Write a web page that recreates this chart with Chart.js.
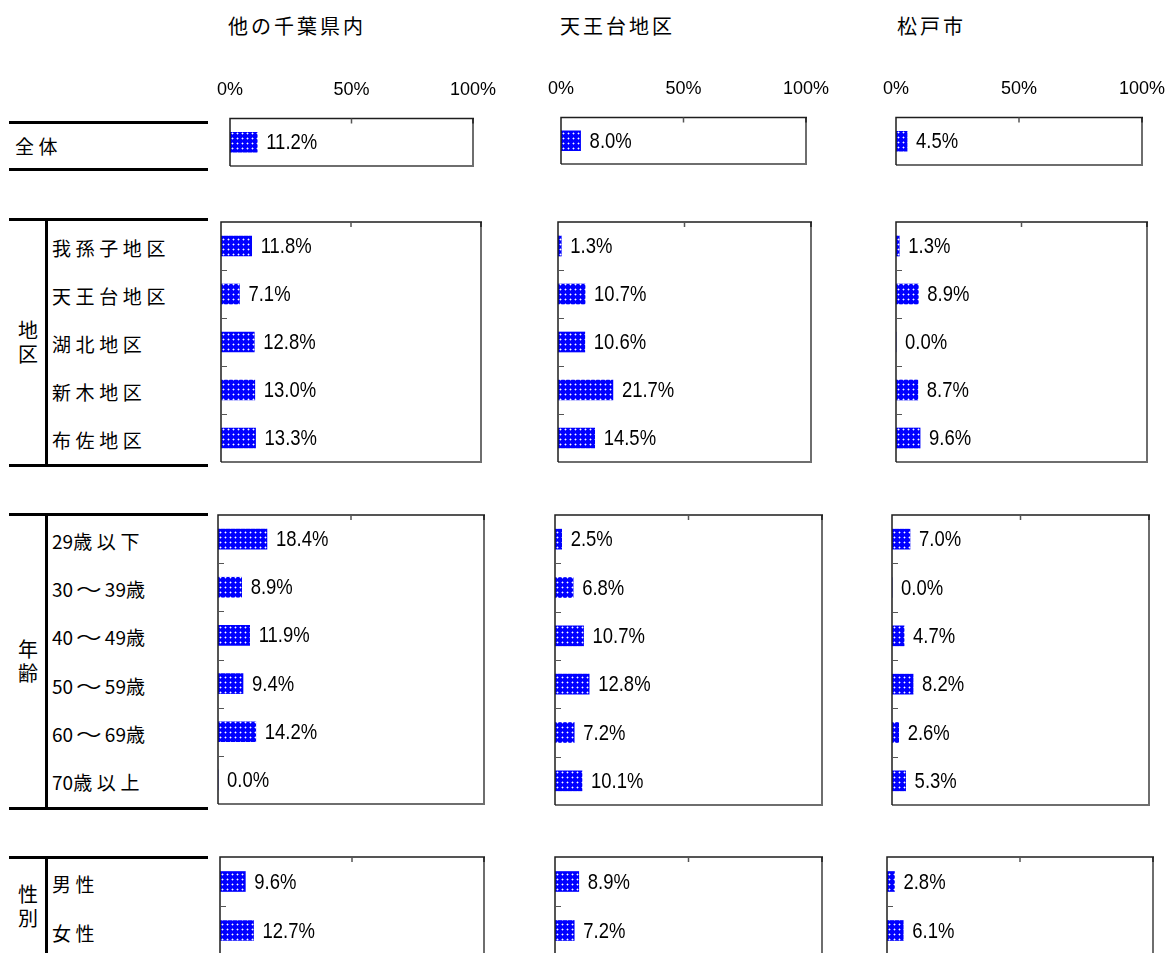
<!DOCTYPE html>
<html lang="ja">
<head>
<meta charset="utf-8">
<title>地域別 回答割合</title>
<script src="https://cdn.jsdelivr.net/npm/chart.js@4.4.1/dist/chart.umd.min.js"></script>
<style>
  body { margin: 0; width: 1174px; height: 953px; overflow: hidden; background: #fff; position: relative;
         font-family: "Noto Sans CJK JP", sans-serif; color: #000; }
  .hline { position: absolute; height: 3px; background: #000; }
  .vline { position: absolute; width: 3px; background: #000; }
  .lbl { position: absolute; white-space: nowrap; line-height: 22px; }
  .lbl span { display: inline-block; }
  .lbl span.wave { text-align: center; }
  .grp { position: absolute; width: 26px; text-align: center; font-size: 20px; line-height: 24px; }
  .panel { position: absolute; }
</style>
</head>
<body>
<script>
// column headings
const areaNames = ["他の千葉県内", "天王台地区", "松戸市"];

// row groups and their categories
const totalLabels = ["全体"];
const districtLabels = ["我孫子地区", "天王台地区", "湖北地区", "新木地区", "布佐地区"];
const ageLabels = ["29歳以下", "30～39歳", "40～49歳", "50～59歳", "60～69歳", "70歳以上"];
const sexLabels = ["男性", "女性"];
const groupNames = ["", "地区", "年齢", "性別"];

// percentages, one array per group and area
const totalOther = [11.2];
const totalTennodai = [8.0];
const totalMatsudo = [4.5];

const districtOther = [11.8, 7.1, 12.8, 13.0, 13.3];
const districtTennodai = [1.3, 10.7, 10.6, 21.7, 14.5];
const districtMatsudo = [1.3, 8.9, 0.0, 8.7, 9.6];

const ageOther = [18.4, 8.9, 11.9, 9.4, 14.2, 0.0];
const ageTennodai = [2.5, 6.8, 10.7, 12.8, 7.2, 10.1];
const ageMatsudo = [7.0, 0.0, 4.7, 8.2, 2.6, 5.3];

const sexOther = [9.6, 12.7];
const sexTennodai = [8.9, 7.2];
const sexMatsudo = [2.8, 6.1];

const xTickValues = [0, 50, 100];

// ---- layout ----
const rows = [
  { labels: totalLabels, values: [totalOther, totalTennodai, totalMatsudo] },
  { labels: districtLabels, values: [districtOther, districtTennodai, districtMatsudo] },
  { labels: ageLabels, values: [ageOther, ageTennodai, ageMatsudo] },
  { labels: sexLabels, values: [sexOther, sexTennodai, sexMatsudo] },
];

// plot boxes [left, top, right, bottom]
const boxes = [
  [[230, 118, 473, 165], [561, 117, 806, 163], [896, 117, 1142, 164]],
  [[221, 222, 481, 462], [558, 222, 811, 462], [896, 222, 1147, 462]],
  [[218, 515, 484, 804], [555, 515, 822, 805], [892, 515, 1149, 805]],
  [[220, 857, 484, 955], [555, 857, 822, 955], [887, 857, 1153, 955]],
];
// table rules: [top line y, bottom line y]
const ruleY = [[122, 169], [219, 465], [514, 808], [857, 960]];
const titleX = [228, 560, 897];

const numFont = '"Liberation Sans", Arial, sans-serif';

// lay text out on a fixed character pitch (narrow for ASCII, wide for kana/kanji)
function spaced(text, size, full, half, x, cy) {
  const el = document.createElement("div");
  el.className = "lbl";
  el.style.fontSize = size + "px";
  el.style.left = x + "px";
  el.style.top = (cy - 11) + "px";
  for (const ch of text) {
    const s = document.createElement("span");
    s.textContent = ch;
    const code = ch.charCodeAt(0);
    if (code === 0xff5e) {
      s.className = "wave";
      s.style.width = (full + 8) + "px";
      s.style.transform = "scaleX(1.35)";
    } else {
      s.style.width = (code < 0x2000 ? half : full) + "px";
    }
    el.appendChild(s);
  }
  document.body.appendChild(el);
}

function hline(x1, x2, y) {
  const d = document.createElement("div");
  d.className = "hline";
  d.style.left = x1 + "px"; d.style.width = (x2 - x1) + "px"; d.style.top = (y - 1) + "px";
  document.body.appendChild(d);
}
function vline(x, y1, y2) {
  const d = document.createElement("div");
  d.className = "vline";
  d.style.left = (x - 1) + "px"; d.style.top = y1 + "px"; d.style.height = (y2 - y1) + "px";
  document.body.appendChild(d);
}

// blue bar fill with white dots
function dotPattern() {
  const c = document.createElement("canvas");
  c.width = 5; c.height = 5;
  const g = c.getContext("2d");
  g.fillStyle = "#0000ff";
  g.fillRect(0, 0, 5, 5);
  g.fillStyle = "rgba(255,255,255,0.4)";
  g.fillRect(2, 1, 1, 3);
  g.fillRect(1, 2, 3, 1);
  g.fillStyle = "#ffffff";
  g.fillRect(2, 2, 1, 1);
  return g.createPattern(c, "repeat");
}
const barFill = dotPattern();

// frame with inner tick marks
const framePlugin = {
  id: "frame",
  afterDatasetsDraw(chart) {
    const { ctx, chartArea: a, scales } = chart;
    ctx.save();
    ctx.lineCap = "butt";
    // right and bottom edges
    ctx.strokeStyle = "#6e6e6e";
    ctx.lineWidth = 2;
    ctx.beginPath();
    ctx.moveTo(a.right, a.top); ctx.lineTo(a.right, a.bottom);
    ctx.moveTo(a.left, a.bottom); ctx.lineTo(a.right + 1, a.bottom);
    ctx.stroke();
    // top and left edges
    ctx.strokeStyle = "#1e1e1e";
    ctx.lineWidth = 1.5;
    ctx.beginPath();
    ctx.moveTo(a.left, a.bottom); ctx.lineTo(a.left, a.top);
    ctx.lineTo(a.right + 1, a.top);
    ctx.stroke();
    // ticks on the top edge
    xTickValues.slice(1).forEach(v => {
      const x = scales.x.getPixelForValue(v);
      ctx.strokeStyle = v === 100 ? "#1e1e1e" : "#555";
      ctx.beginPath();
      ctx.moveTo(x, a.top); ctx.lineTo(x, a.top + 5);
      ctx.stroke();
    });
    // category separators on the left edge
    const n = chart.data.labels.length;
    ctx.strokeStyle = "#555";
    ctx.lineWidth = 1;
    for (let i = 1; i < n; i++) {
      const y = Math.round((scales.y.getPixelForValue(i - 1) + scales.y.getPixelForValue(i)) / 2) + 0.5;
      ctx.beginPath();
      ctx.moveTo(a.left, y); ctx.lineTo(a.left + 6, y);
      ctx.stroke();
    }
    ctx.restore();
  }
};

// percentage text after each bar (condensed figures)
const valuePlugin = {
  id: "values",
  afterDatasetsDraw(chart) {
    const { ctx } = chart;
    const data = chart.data.datasets[0].data;
    chart.getDatasetMeta(0).data.forEach((bar, i) => {
      ctx.save();
      ctx.font = "22px " + numFont;
      ctx.fillStyle = "#000";
      ctx.textAlign = "left";
      ctx.textBaseline = "middle";
      ctx.translate(bar.x + 9, bar.y + 1);
      ctx.scale(0.84, 1);
      ctx.fillText(data[i].toFixed(1) + "%", 0, 0);
      ctx.restore();
    });
  }
};

function makePanel(box, labels, values, showTicks) {
  const [l, t, r, b] = box;
  const pad = 50;
  const axisH = showTicks ? 22 + 36 : 0;
  let w = r - l + pad * 2;
  let h = b - t + pad * 2 + axisH;
  const wrap = document.createElement("div");
  wrap.className = "panel";
  wrap.style.left = (l - pad) + "px";
  wrap.style.top = (t - pad - axisH) + "px";
  wrap.style.width = w + "px";
  wrap.style.height = h + "px";
  const cv = document.createElement("canvas");
  wrap.appendChild(cv);
  document.body.appendChild(wrap);

  const chart = new Chart(cv, {
    type: "bar",
    data: {
      labels: labels,
      datasets: [{ data: values, backgroundColor: barFill, borderWidth: 0, barThickness: 20 }]
    },
    options: {
      indexAxis: "y",
      responsive: true,
      maintainAspectRatio: false,
      animation: false,
      layout: { padding: pad },
      plugins: { legend: { display: false }, tooltip: { enabled: false } },
      scales: {
        x: {
          position: "top",
          min: 0,
          max: 100,
          display: showTicks,
          afterBuildTicks: s => { s.ticks = xTickValues.map(v => ({ value: v })); },
          ticks: {
            callback: v => v + "%",
            color: "#000",
            font: { family: numFont, size: 18 },
            padding: 18,
            maxRotation: 0,
            autoSkip: false
          },
          grid: { display: false, drawTicks: false },
          border: { display: false }
        },
        y: { display: false }
      }
    },
    plugins: [framePlugin, valuePlugin]
  });

  // size the canvas until the plot area fills its box, then move it into place
  for (let k = 0; k < 4; k++) {
    const ca = chart.chartArea;
    const dw = Math.round((r - l) - (ca.right - ca.left));
    const dh = Math.round((b - t) - (ca.bottom - ca.top));
    if (!dw && !dh) break;
    w += dw; h += dh;
    wrap.style.width = w + "px";
    wrap.style.height = h + "px";
    chart.resize();
  }
  const ca = chart.chartArea;
  wrap.style.left = (l - ca.left) + "px";
  wrap.style.top = (t - ca.top) + "px";
}

// headings
areaNames.forEach((name, c) => spaced(name, 20, 23, 11, titleX[c], 26));

// left table
rows.forEach((row, ri) => {
  const [y1, y2] = ruleY[ri];
  hline(9, 208, y1);
  hline(9, 208, y2);
  const [, top, , bottom] = boxes[ri][0];
  const pitch = (bottom - top) / row.labels.length;
  if (ri === 0) {
    spaced(row.labels[0], 19, 23.5, 11, 15, (y1 + y2) / 2);
  } else {
    vline(46, y1, y2);
    row.labels.forEach((lab, i) => spaced(lab, 19, 23.6, 10.6, 52, top + (i + 0.5) * pitch + 2));
    const g = document.createElement("div");
    g.className = "grp";
    g.style.left = "15px";
    g.style.top = ((y1 + Math.min(y2, 955)) / 2 - 24) + "px";
    g.innerHTML = groupNames[ri][0] + "<br>" + groupNames[ri][1];
    document.body.appendChild(g);
  }
});

// panels
rows.forEach((row, ri) => {
  row.values.forEach((vals, c) => makePanel(boxes[ri][c], row.labels, vals, ri === 0));
});
</script>
</body>
</html>
